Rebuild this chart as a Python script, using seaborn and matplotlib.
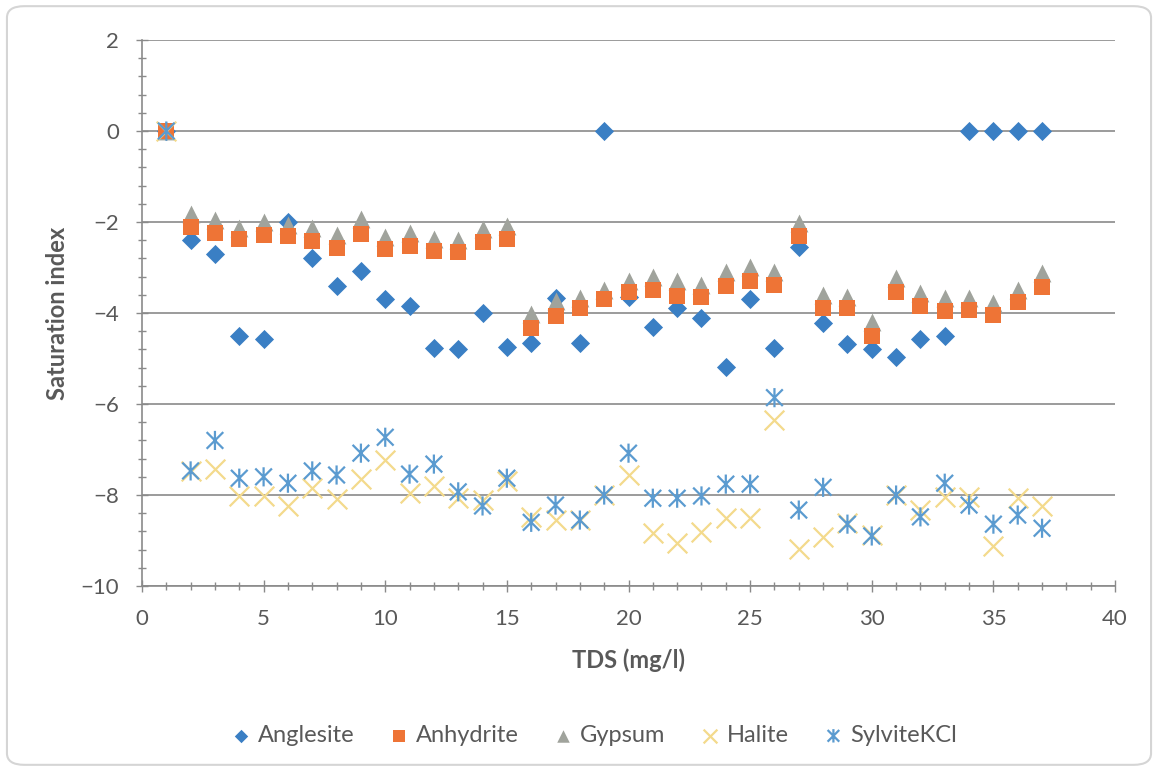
import numpy as np
import pandas as pd
import seaborn as sns
import matplotlib
matplotlib.use("Agg")
import matplotlib.pyplot as plt
from matplotlib.patches import FancyBboxPatch
from matplotlib.path import Path
from matplotlib.ticker import MultipleLocator

# Sample index (TDS axis)
tds = list(range(1, 38))

anglesite = [0, -2.4, -2.7, -4.5, -4.56, -2.0, -2.8, -3.4, -3.07, -3.7,
             -3.84, -4.76, -4.8, -3.99, -4.74, -4.65, -3.68, -4.65, 0, -3.65,
             -4.3, -3.88, -4.12, -5.18, -3.7, -4.76, -2.55, -4.23, -4.68, -4.79,
             -4.97, -4.56, -4.5, 0, 0, 0, 0]
anhydrite = [0, -2.1, -2.24, -2.37, -2.28, -2.3, -2.41, -2.57, -2.26, -2.59,
             -2.52, -2.63, -2.65, -2.43, -2.37, -4.32, -4.06, -3.9, -3.7, -3.53,
             -3.49, -3.62, -3.64, -3.4, -3.29, -3.38, -2.3, -3.88, -3.9, -4.5,
             -3.53, -3.84, -3.95, -3.93, -4.04, -3.75, -3.42]
gypsum = [0, -1.82, -1.96, -2.13, -2.0, -2.07, -2.13, -2.28, -1.93, -2.32,
          -2.24, -2.37, -2.39, -2.15, -2.08, -4.03, -3.73, -3.66, -3.49, -3.29,
          -3.2, -3.29, -3.38, -3.09, -2.98, -3.09, -2.02, -3.6, -3.64, -4.19,
          -3.24, -3.57, -3.66, -3.68, -3.79, -3.49, -3.11]
halite = [0, -7.47, -7.43, -8.02, -8.02, -8.24, -7.85, -8.08, -7.65, -7.22,
          -7.96, -7.8, -8.07, -8.1, -7.7, -8.48, -8.55, -8.55, -8.0, -7.56,
          -8.84, -9.06, -8.82, -8.5, -8.5, -6.34, -9.19, -8.92, -8.62, -8.88,
          -8.0, -8.33, -8.04, -8.04, -9.12, -8.07, -8.24]
sylvite = [0, -7.47, -6.8, -7.63, -7.6, -7.74, -7.47, -7.56, -7.08, -6.73,
           -7.54, -7.32, -7.93, -8.24, -7.63, -8.6, -8.22, -8.55, -8.0, -7.08,
           -8.07, -8.07, -8.02, -7.76, -7.76, -5.86, -8.33, -7.83, -8.64, -8.9,
           -8.0, -8.48, -7.74, -8.22, -8.64, -8.44, -8.73]

x_ticks = [0, 5, 10, 15, 20, 25, 30, 35, 40]
y_ticks = [-10, -8, -6, -4, -2, 0, 2]

sns.set_theme(style="white")
plt.rcParams["font.family"] = ["Lato", "DejaVu Sans"]
text_color = "#595959"
grid_color = "#8A8A8A"

# X-shaped star with a vertical bar
star = Path([(-1, -1), (1, 1), (-1, 1), (1, -1), (0, -1.15), (0, 1.15)],
            [Path.MOVETO, Path.LINETO, Path.MOVETO, Path.LINETO, Path.MOVETO, Path.LINETO])

fig = plt.figure(figsize=(11.58, 7.71), dpi=100)
fig.patches.append(FancyBboxPatch((0.006, 0.008), 0.988, 0.984,
                                  boxstyle="round,pad=0,rounding_size=0.015",
                                  transform=fig.transFigure, facecolor="white",
                                  edgecolor="#D5D5D5", linewidth=1.5, zorder=-10))
ax = fig.add_axes([0.1226, 0.2399, 0.8403, 0.7082])
ax.set_facecolor("none")

series = [
    ("Anglesite", anglesite, "#3A7FC4", dict(marker="D", s=95, linewidth=0)),
    ("Gypsum", gypsum, "#A0A39C", dict(marker="^", s=165, linewidth=0)),
    ("Anhydrite", anhydrite, "#EE7436", dict(marker="s", s=135, linewidth=0)),
    ("Halite", halite, "#F3DA8C", dict(marker="x", s=200, linewidth=1.6)),
    ("SylviteKCl", sylvite, "#5B9BD0", dict(marker=star, s=190, linewidth=1.6)),
]
for name, vals, col, kw in series:
    df = pd.DataFrame({"TDS": tds, "SI": vals})
    sns.scatterplot(data=df, x="TDS", y="SI", ax=ax, label=name, color=col,
                    zorder=3, **kw)
    if name == "SylviteKCl":
        coll = ax.collections[-1]
        coll.set_facecolor("none")
        coll.set_edgecolor(col)

ax.set_xlim(0, 40)
ax.set_ylim(-10, 2)
ax.set_xticks(x_ticks)
ax.set_yticks(y_ticks)
ax.xaxis.set_minor_locator(MultipleLocator(1))
ax.yaxis.set_minor_locator(MultipleLocator(0.4))
ax.grid(axis="y", which="major", color=grid_color, linewidth=1.2, zorder=1)
ax.set_axisbelow(True)
for side in ("top", "right"):
    ax.spines[side].set_visible(False)
for side in ("left", "bottom"):
    ax.spines[side].set_color(grid_color)
    ax.spines[side].set_linewidth(1.2)
ax.tick_params(axis="both", which="both", direction="inout", color=grid_color,
               left=True, bottom=True, width=1.0)
ax.tick_params(axis="both", which="major", length=9, labelsize=16,
               labelcolor=text_color, pad=12)
ax.tick_params(axis="both", which="minor", length=6)

ax.set_xlabel("TDS (mg/l)", fontsize=17, fontweight="bold", color=text_color, labelpad=14)
ax.set_ylabel("Saturation index", fontsize=17, fontweight="bold", color=text_color, labelpad=8)

handles, labels = ax.get_legend_handles_labels()
order = ["Anglesite", "Anhydrite", "Gypsum", "Halite", "SylviteKCl"]
hmap = dict(zip(labels, handles))
ax.legend_.remove()
fig.legend([hmap[k] for k in order], order, loc="center", ncol=5,
           bbox_to_anchor=(0.51, 0.046), frameon=False, fontsize=17,
           markerscale=0.7, handletextpad=0.0, columnspacing=1.2,
           handlelength=1.4, labelcolor=text_color)

fig.savefig("out.png", dpi=100)
